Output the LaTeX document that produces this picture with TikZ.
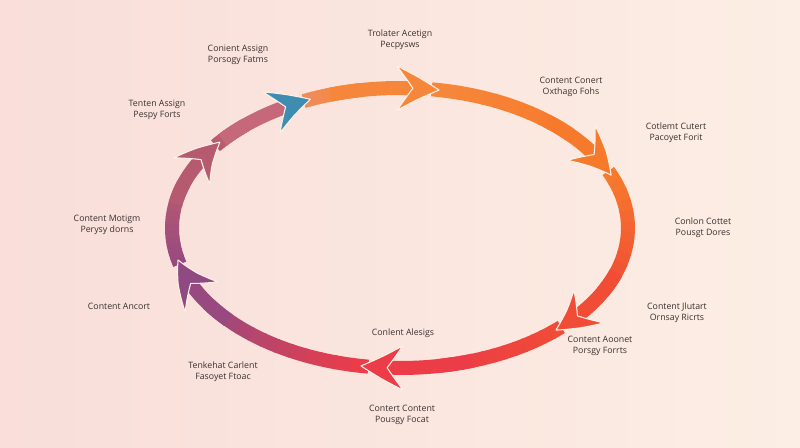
\documentclass[tikz,border=0pt]{standalone}
\usepackage{fontspec}
\setmainfont{Open Sans}
\definecolor{bgpink}{RGB}{249,222,217}
\definecolor{bgcream}{RGB}{253,241,231}
\definecolor{bgpeach}{RGB}{252,238,228}
\definecolor{labeltext}{RGB}{58,48,48}
\definecolor{ringpurple}{RGB}{152,74,128}
\definecolor{ringmauve}{RGB}{182,90,112}
\definecolor{ringrose}{RGB}{196,104,122}
\definecolor{headteal}{RGB}{62,140,178}
\definecolor{ringpeach}{RGB}{240,140,90}
\definecolor{ringorange}{RGB}{246,135,58}
\definecolor{ringamber}{RGB}{247,122,44}
\definecolor{ringredor}{RGB}{240,76,54}
\definecolor{ringred}{RGB}{236,60,72}
\definecolor{ringviolet}{RGB}{143,74,132}
\usetikzlibrary{arrows.meta,bending,calc}

\begin{document}
\begin{tikzpicture}[x=0.02cm,y=-0.02cm,
  ring/.style={line width=0.28cm},
  lbl/.style={font=\fontsize{5}{6.2}\selectfont,text=labeltext,align=center}]
  % Background
  \shade[left color=bgpink,middle color=bgcream,right color=bgpeach] (0,0) rectangle (800,448);
  \useasboundingbox (0,0) rectangle (800,448);
  \coordinate (c) at (400,228);
  % Ring bodies (colour steps along each arc)
  \foreach \s/\e/\ca/\cb in {167/218/ringpurple/ringmauve,218/247/ringmauve/ringrose,
      247/280/ringpeach/ringorange,280/338/ringorange/ringamber,338/407/ringamber/ringredor,
      407/460/ringredor/ringred,460/527/ringred/ringpurple}{
    \foreach \k in {0,...,11}{
      \pgfmathsetmacro{\aa}{\s-2+(\e-18-\s)*\k/12}
      \pgfmathsetmacro{\ab}{\aa+(\e-18-\s)/12+0.4}
      \pgfmathsetmacro{\p}{\k*100/11}
      \draw[ring,\cb!\p!\ca] ($(c)+(\aa:228 and 140)$) arc[start angle=\aa,end angle=\ab,x radius=228,y radius=140];
    }
  }
  % Arrow heads
  \foreach \e/\cb/\tip in {218/ringmauve/ringmauve,247/ringrose/headteal,280/ringorange/ringorange,
      338/ringamber/ringamber,407/ringredor/ringredor,460/ringred/ringred,527/ringpurple/ringviolet}{
    \pgfmathsetmacro{\aa}{\e-28}
    \draw[ring,\cb,-{Stealth[length=0.9cm,width=0.95cm,inset=0.34cm,round,line width=0.6pt,color=bgcream,fill=\tip,bend]}]
      ($(c)+(\aa:228 and 140)$) arc[start angle=\aa,end angle=\e,x radius=228,y radius=140];
  }
  % Labels
  \node[lbl] (tl) at (238,55) {Conient Assign\\Porsogy Fatms};
  \node[lbl] (tp) at (400,40) {Trolater Acetign\\Pecpysws};
  \node[lbl] (tr) at (571,87) {Content Conert\\Oxthago Fohs};
  \node[lbl] (ur) at (676,133) {Cotlemt Cutert\\Pacoyet Forit};
  \node[lbl] (rt) at (703,228) {Conlon Cottet\\Pousgt Dores};
  \node[lbl] (lr) at (677,313) {Content Jlutart\\Ornsay Ricrts};
  \node[lbl] (br) at (600,346) {Content Aoonet\\Porsgy Forrts};
  \node[lbl] (bi) at (403,333) {Conlent Alesigs};
  \node[lbl] (bt) at (402,415) {Contert Content\\Pousgy Focat};
  \node[lbl] (bl) at (223,372) {Tenkehat Carlent\\Fasoyet Ftoac};
  \node[lbl] (lf) at (107,225) {Content Motigm\\Perysy dorns};
  \node[lbl] (ll) at (119,306) {Content Ancort};
  \node[lbl] (ul) at (157,110) {Tenten Assign\\Pespy Forts};
\end{tikzpicture}
\end{document}
